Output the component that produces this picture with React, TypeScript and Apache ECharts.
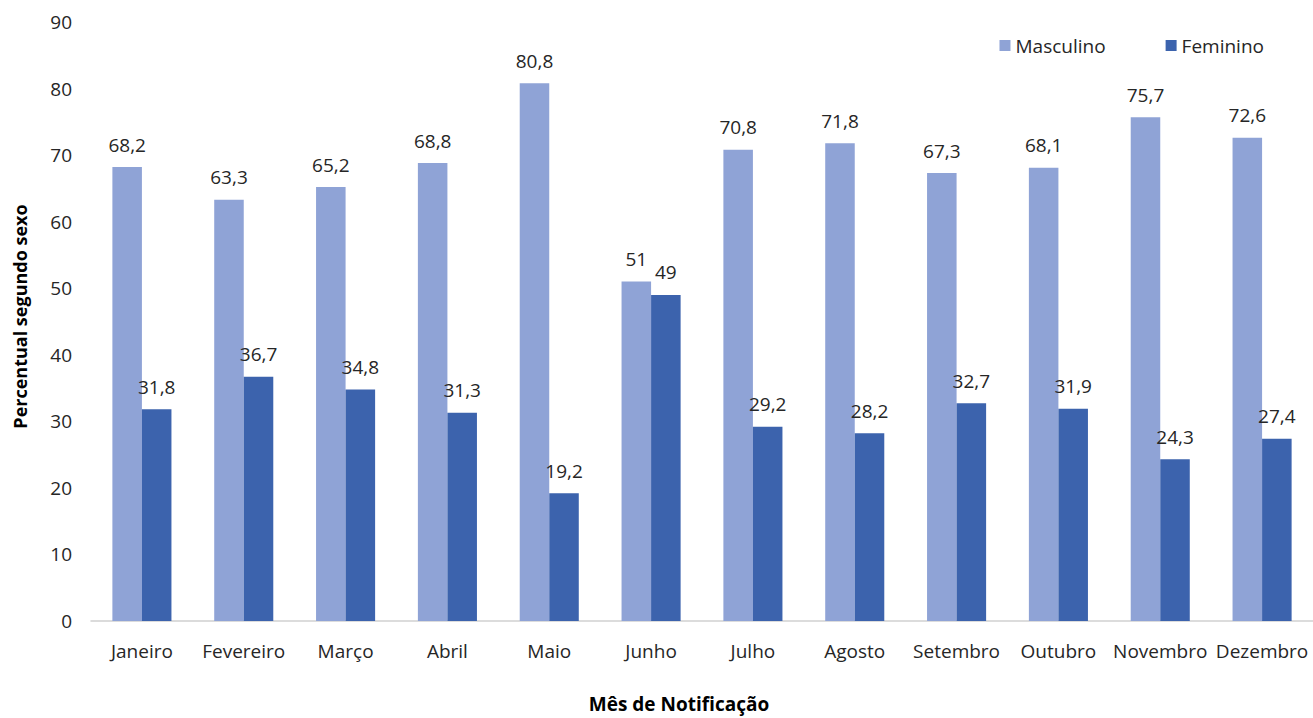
import React, { useEffect, useRef } from "react";
import * as echarts from "echarts";

const categories = ["Janeiro", "Fevereiro", "Março", "Abril", "Maio", "Junho", "Julho", "Agosto", "Setembro", "Outubro", "Novembro", "Dezembro"];
const masculino = [68.2, 63.3, 65.2, 68.8, 80.8, 51, 70.8, 71.8, 67.3, 68.1, 75.7, 72.6];
const feminino = [31.8, 36.7, 34.8, 31.3, 19.2, 49, 29.2, 28.2, 32.7, 31.9, 24.3, 27.4];
const yTicks = { min: 0, max: 90, interval: 10 };

const fmt = (v: number) => String(v).replace(".", ",");
const FONT = "Open Sans";

export default function App() {
  const ref = useRef<HTMLDivElement>(null);
  useEffect(() => {
    const chart = echarts.init(ref.current!, undefined, { renderer: "svg" });
    const labelStyle = {
      show: true,
      position: "top" as const,
      distance: 13,
      color: "#262626",
      fontSize: 19,
      fontFamily: FONT,
      formatter: (p: any) => fmt(p.value),
    };
    chart.setOption({
      animation: false,
      textStyle: { fontFamily: FONT },
      legend: {
        data: ["Masculino", "Feminino"],
        right: 44,
        top: 31,
        itemWidth: 11,
        itemHeight: 11,
        itemGap: 60,
        icon: "rect",
        textStyle: { fontSize: 19, color: "#262626", fontFamily: FONT },
      },
      grid: { left: 91, right: 0, top: 22, bottom: 91, containLabel: false },
      xAxis: {
        type: "category",
        data: categories,
        axisLine: { lineStyle: { color: "#d0d0d0", width: 1.5 } },
        axisTick: { show: false },
        axisLabel: { color: "#262626", fontSize: 19, margin: 20, fontFamily: FONT, interval: 0 },
        name: "Mês de Notificação",
        nameLocation: "middle",
        nameGap: 73,
        nameTextStyle: { fontSize: 19, fontWeight: "bold", color: "#000", fontFamily: FONT, padding: [0, 46, 0, 0] },
      },
      yAxis: {
        type: "value",
        min: yTicks.min,
        max: yTicks.max,
        interval: yTicks.interval,
        splitLine: { show: false },
        axisLine: { show: false },
        axisTick: { show: false },
        axisLabel: { color: "#262626", fontSize: 19, margin: 19, fontFamily: FONT },
        name: "Percentual segundo sexo",
        nameLocation: "middle",
        nameGap: 62,
        nameTextStyle: { fontSize: 18, fontWeight: "bold", color: "#000", fontFamily: FONT, padding: [0, 0, 0, 10] },
      },
      series: [
        {
          name: "Masculino",
          type: "bar",
          data: masculino,
          barGap: "0%",
          barCategoryGap: "42%",
          itemStyle: { color: "#8FA3D6" },
          label: labelStyle,
        },
        {
          name: "Feminino",
          type: "bar",
          data: feminino,
          itemStyle: { color: "#3C63AD" },
          label: labelStyle,
        },
      ],
    });
    return () => chart.dispose();
  }, []);
  return <div ref={ref} style={{ position: "fixed", left: 0, top: 0, width: 1313, height: 718, background: "#fff" }} />;
}
